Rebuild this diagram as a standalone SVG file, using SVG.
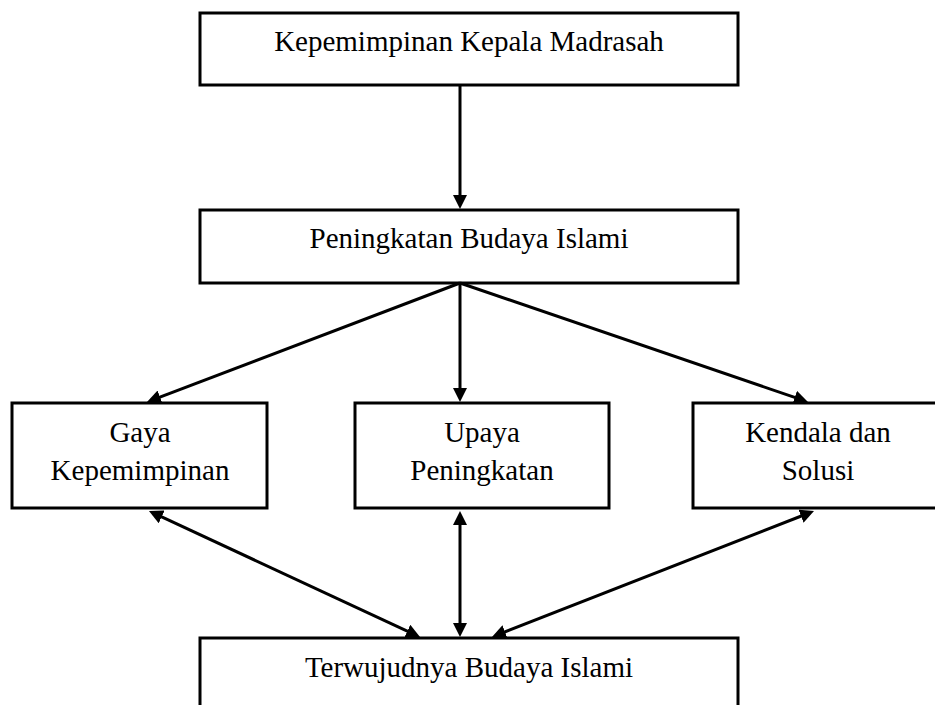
<svg xmlns="http://www.w3.org/2000/svg" width="935" height="705" viewBox="0 0 935 705">
<style>
.box{fill:#fff;stroke:#000;stroke-width:3}
.t{font-family:"Liberation Serif","Times New Roman",serif;font-size:29px;fill:#000;text-anchor:middle}
.c{stroke:#000;stroke-width:3;fill:none}
</style>
<defs>
<marker id="ah" markerUnits="userSpaceOnUse" markerWidth="14" markerHeight="14" refX="10" refY="7" orient="auto-start-reverse">
<path d="M0,0 L14,7 L0,14 z" fill="#000"/>
</marker>
</defs>
<rect width="935" height="705" fill="#fff"/>
<g id="n1"><rect class="box" x="200" y="13" width="538" height="72"/><text class="t" x="469" y="51">Kepemimpinan Kepala Madrasah</text></g>
<g id="n2"><rect class="box" x="200" y="210" width="538" height="73"/><text class="t" x="469" y="248">Peningkatan Budaya Islami</text></g>
<g id="n3"><rect class="box" x="12" y="403" width="255" height="105"/><text class="t" x="140" y="442">Gaya</text><text class="t" x="140" y="480">Kepemimpinan</text></g>
<g id="n4"><rect class="box" x="355" y="403" width="254" height="105"/><text class="t" x="482" y="442">Upaya</text><text class="t" x="482" y="480">Peningkatan</text></g>
<g id="n5"><rect class="box" x="693" y="403" width="255" height="105"/><text class="t" x="818" y="442">Kendala dan</text><text class="t" x="818" y="480">Solusi</text></g>
<g id="n6"><rect class="box" x="200" y="638" width="538" height="100"/><text class="t" x="469" y="677">Terwujudnya Budaya Islami</text></g>
<g id="connectors">
<line class="c" x1="460" y1="85" x2="460" y2="205" marker-end="url(#ah)"/>
<line class="c" x1="460" y1="283" x2="150.7" y2="400.6" marker-end="url(#ah)"/>
<line class="c" x1="460" y1="283" x2="460" y2="398" marker-end="url(#ah)"/>
<line class="c" x1="460" y1="283" x2="804.2" y2="400.7" marker-end="url(#ah)"/>
<line class="c" x1="152.6" y1="512.7" x2="416.4" y2="635.3" marker-start="url(#ah)" marker-end="url(#ah)"/>
<line class="c" x1="460" y1="515" x2="460" y2="633" marker-start="url(#ah)" marker-end="url(#ah)"/>
<line class="c" x1="810.3" y1="512.5" x2="495.7" y2="635.5" marker-start="url(#ah)" marker-end="url(#ah)"/>
</g>
</svg>
